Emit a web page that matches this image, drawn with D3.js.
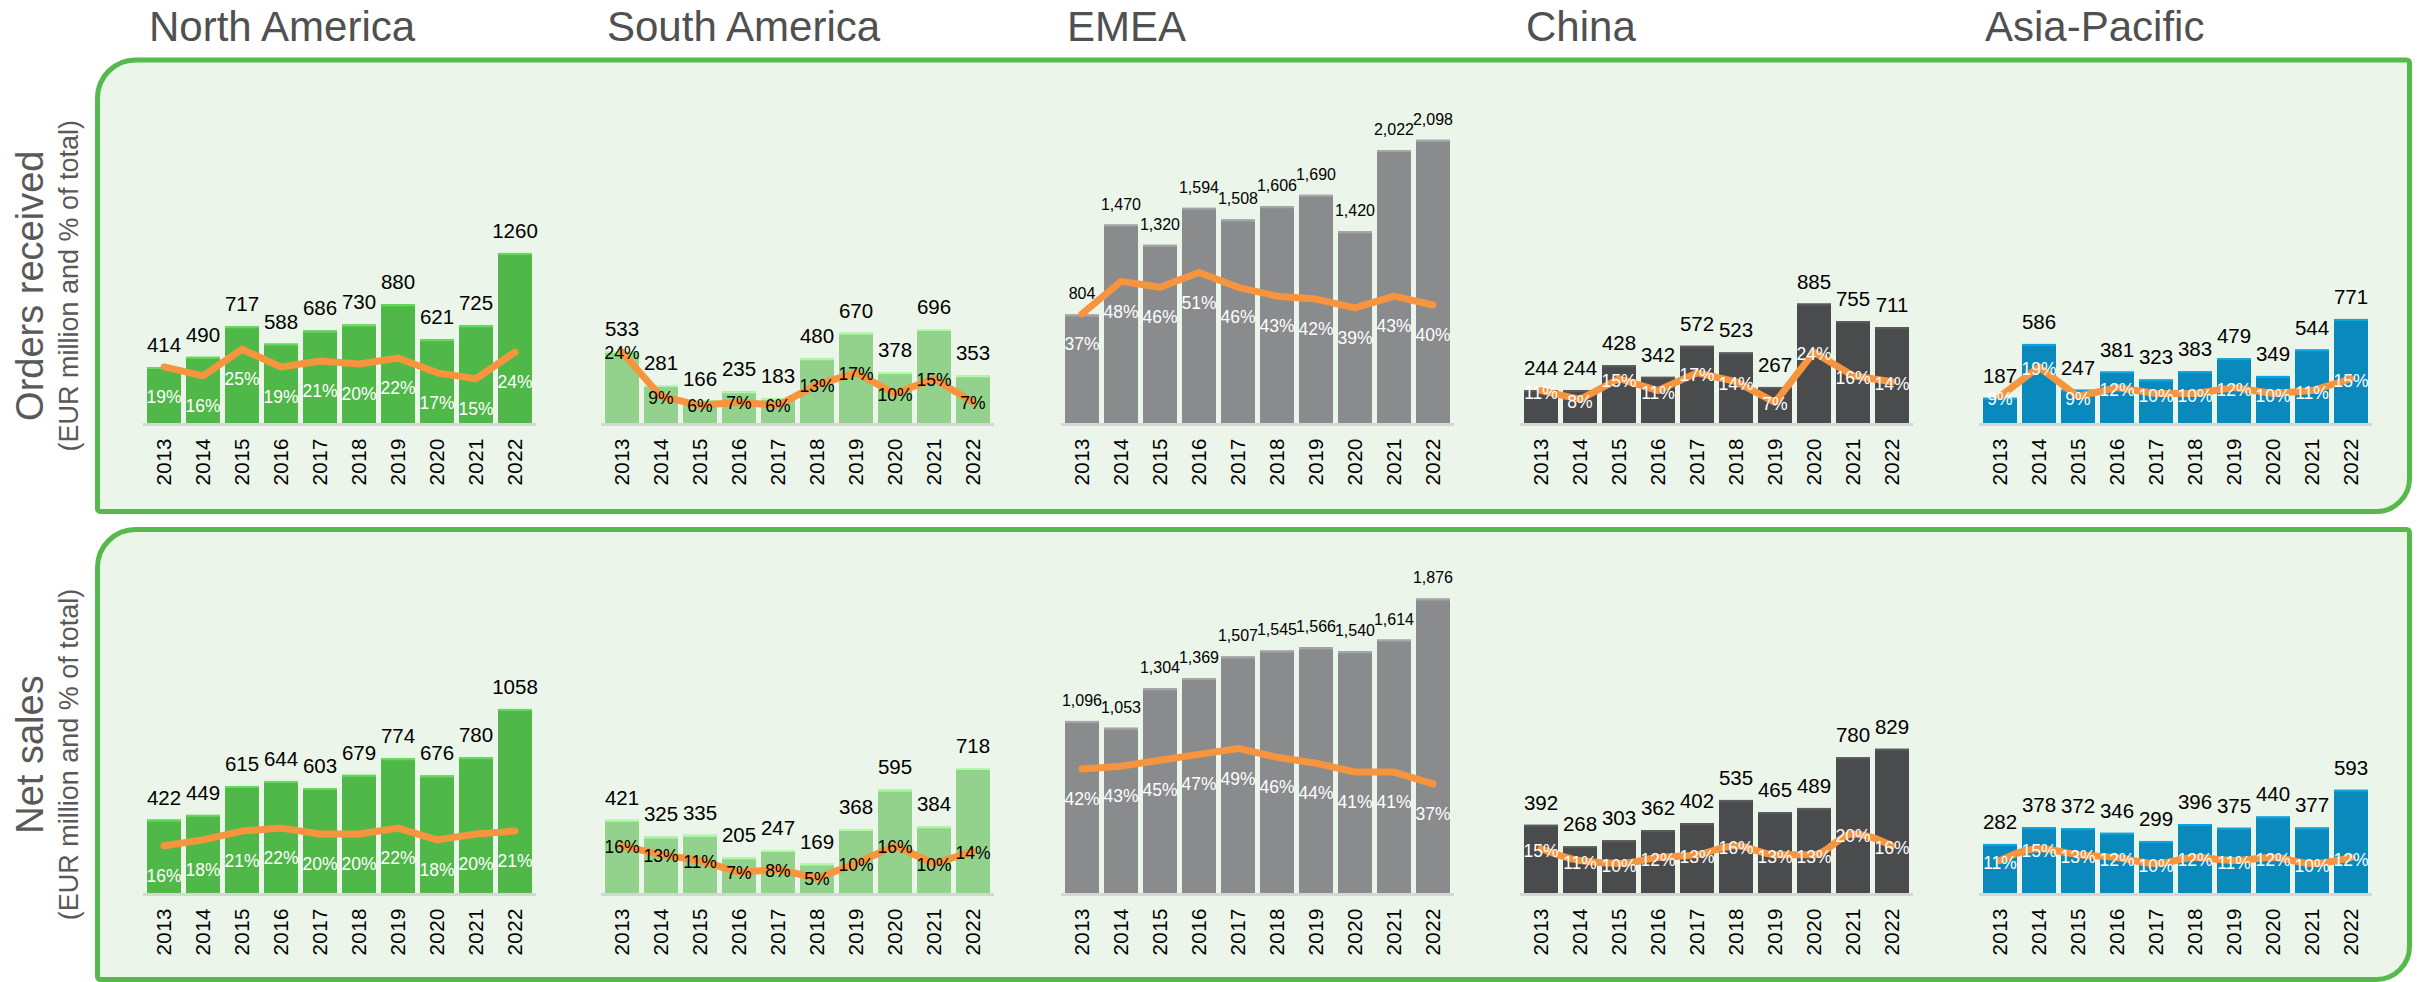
<!DOCTYPE html>
<html><head><meta charset="utf-8">
<script src="https://cdn.jsdelivr.net/npm/d3@7"></script>
<style>
html,body{margin:0;padding:0;background:#fff;}
svg{display:block;font-family:"Liberation Sans",Arial,Helvetica,sans-serif;}
</style>
</head><body>
<svg id="chart" width="2421" height="982"></svg>
<script>
// ---------------- DATA ----------------
const years = ["2013","2014","2015","2016","2017","2018","2019","2020","2021","2022"];
const regions = ["North America","South America","EMEA","China","Asia-Pacific"];
const rowLabels = ["Orders received","Net sales"];
const rowSubLabel = "(EUR million and % of total)";

// Orders received (EUR million) and share of total (%)
const ordersNA     = [414,490,717,588,686,730,880,621,725,1260];
const ordersNAPct  = [19,16,25,19,21,20,22,17,15,24];
const ordersSA     = [533,281,166,235,183,480,670,378,696,353];
const ordersSAPct  = [24,9,6,7,6,13,17,10,15,7];
const ordersEMEA   = [804,1470,1320,1594,1508,1606,1690,1420,2022,2098];
const ordersEMEAPct= [37,48,46,51,46,43,42,39,43,40];
const ordersCN     = [244,244,428,342,572,523,267,885,755,711];
const ordersCNPct  = [11,8,15,11,17,14,7,24,16,14];
const ordersAP     = [187,586,247,381,323,383,479,349,544,771];
const ordersAPPct  = [9,19,9,12,10,10,12,10,11,15];

// Net sales (EUR million) and share of total (%)
const salesNA      = [422,449,615,644,603,679,774,676,780,1058];
const salesNAPct   = [16,18,21,22,20,20,22,18,20,21];
const salesSA      = [421,325,335,205,247,169,368,595,384,718];
const salesSAPct   = [16,13,11,7,8,5,10,16,10,14];
const salesEMEA    = [1096,1053,1304,1369,1507,1545,1566,1540,1614,1876];
const salesEMEAPct = [42,43,45,47,49,46,44,41,41,37];
const salesCN      = [392,268,303,362,402,535,465,489,780,829];
const salesCNPct   = [15,11,10,12,13,16,13,13,20,16];
const salesAP      = [282,378,372,346,299,396,375,440,377,593];
const salesAPPct   = [11,15,13,12,10,12,11,12,10,12];

// ---------------- LAYOUT / STYLE ----------------
const svg = d3.select("#chart");

const regionX = [147, 605, 1065, 1524, 1983];
const barColors = ["#50b848","#93d28c","#8a8b8d","#4a4b4d","#0a89bc"];
const pctLabelColor = ["#ffffff","#000000","#ffffff","#ffffff","#ffffff"];
const pctLabelOffset = [30, 1, 30, 2, 2];
const valueFont = [20.5,20.5,16,20.5,20.5];
const lineColor = "#f7953e";
const borderColor = "#55b94b";
const panelFill = "#ebf5ea";

const rowsData = [
  { values:[ordersNA,ordersSA,ordersEMEA,ordersCN,ordersAP],
    pcts:[ordersNAPct,ordersSAPct,ordersEMEAPct,ordersCNPct,ordersAPPct] },
  { values:[salesNA,salesSA,salesEMEA,salesCN,salesAP],
    pcts:[salesNAPct,salesSAPct,salesEMEAPct,salesCNPct,salesAPPct] }
];
const rowGeom = [
  { top:60, bottom:511.5, base:423, valMax:[2700,2700,2700,2700,2700], valTop:[58.5,58.5,58.5,58.5,58.5], curve:[0,0,0,0,0] },
  { top:529.5, bottom:979.5, base:893, valMax:[2000,2000,2000,2000,2000], valTop:[545,545,579,545,545], curve:[0,0,0,1,1] }
];
const panelLeft = 97.5, panelRight = 2409.5;

// panel shape: rounded top-left and bottom-right corners
function panelPath(x0,y0,x1,y1,rTL,rBR,rS){
  const p = d3.path();
  p.moveTo(x0+rTL,y0);
  p.lineTo(x1-rS,y0);
  p.arcTo(x1,y0,x1,y0+rS,rS);
  p.lineTo(x1,y1-rBR);
  p.arcTo(x1,y1,x1-rBR,y1,rBR);
  p.lineTo(x0+rS,y1);
  p.arcTo(x0,y1,x0,y1-rS,rS);
  p.lineTo(x0,y0+rTL);
  p.arcTo(x0,y0,x0+rTL,y0,rTL);
  p.closePath();
  return p.toString();
}

// Titles
svg.selectAll("text.title").data(regions).enter().append("text")
  .attr("class","title")
  .attr("x",(d,i)=>regionX[i]+2)
  .attr("y",41)
  .attr("font-size",42)
  .attr("fill","#505050")
  .text(d=>d);

rowGeom.forEach((g,ri)=>{
  svg.append("path")
    .attr("d",panelPath(panelLeft,g.top,panelRight,g.bottom,38,33,3))
    .attr("fill",panelFill)
    .attr("stroke",borderColor)
    .attr("stroke-width",5);

  const cy = (g.top+g.bottom)/2;
  svg.append("text")
    .attr("transform",`translate(43,${cy}) rotate(-90)`)
    .attr("text-anchor","middle")
    .attr("font-size",38)
    .attr("fill","#595959")
    .text(rowLabels[ri]);
  svg.append("text")
    .attr("transform",`translate(78,${cy}) rotate(-90)`)
    .attr("text-anchor","middle")
    .attr("font-size",27)
    .attr("fill","#595959")
    .text(rowSubLabel);

  regions.forEach((reg,k)=>{
    const vals = rowsData[ri].values[k];
    const pcts = rowsData[ri].pcts[k];
    const x = d3.scaleBand().domain(years).range([regionX[k], regionX[k]+385]).paddingInner(5/39).paddingOuter(0);
    const y = d3.scaleLinear().domain([0,g.valMax[k]]).range([g.base,g.valTop[k]]);
    const yp = d3.scaleLinear().domain([0,100]).range([g.base,g.base-295]);
    const gg = svg.append("g");
    const data = years.map((yr,i)=>({yr, v:vals[i], p:pcts[i]}));
    const col = barColors[k];
    const light = d3.color(col).brighter(0.5).formatHex();

    gg.selectAll("rect.bar").data(data).enter().append("rect")
      .attr("class","bar")
      .attr("x",d=>x(d.yr))
      .attr("width",x.bandwidth())
      .attr("y",d=>y(d.v))
      .attr("height",d=>g.base-y(d.v))
      .attr("fill",col);
    gg.selectAll("line.cap").data(data).enter().append("line")
      .attr("x1",d=>x(d.yr)).attr("x2",d=>x(d.yr)+x.bandwidth())
      .attr("y1",d=>y(d.v)+1).attr("y2",d=>y(d.v)+1)
      .attr("stroke",light).attr("stroke-width",2);

    const axis = d3.axisBottom(x).tickSize(0).tickFormat("");
    const ax = gg.append("g").attr("transform",`translate(0,${g.base+1.5})`).call(axis);
    ax.select(".domain").attr("stroke","#d6d6d6").attr("stroke-width",3)
      .attr("d",`M${regionX[k]-4},0H${regionX[k]+389}`);

    gg.selectAll("text.yr").data(data).enter().append("text")
      .attr("transform",d=>`translate(${x(d.yr)+x.bandwidth()/2},${g.base+15}) rotate(-90)`)
      .attr("text-anchor","end")
      .attr("dy","0.35em")
      .attr("font-size",20.5)
      .attr("letter-spacing","0.5")
      .attr("fill","#000")
      .text(d=>d.yr);

    const line = d3.line()
      .x(d=>x(d.yr)+x.bandwidth()/2)
      .y(d=>yp(d.p))
      .curve(g.curve[k] ? d3.curveMonotoneX : d3.curveLinear);
    gg.append("path").datum(data)
      .attr("d",line)
      .attr("fill","none")
      .attr("stroke",lineColor)
      .attr("stroke-width",7)
      .attr("stroke-linejoin","round")
      .attr("stroke-linecap","round");

    const fmt = k===2 ? d3.format(",") : d3.format("d");
    gg.selectAll("text.val").data(data).enter().append("text")
      .attr("x",d=>x(d.yr)+x.bandwidth()/2)
      .attr("y",d=>y(d.v)-15)
      .attr("text-anchor","middle")
      .attr("font-size",valueFont[k])
      .attr("fill","#000")
      .text(d=>fmt(d.v));

    gg.selectAll("text.pct").data(data).enter().append("text")
      .attr("x",d=>x(d.yr)+x.bandwidth()/2)
      .attr("y",d=>yp(d.p)+pctLabelOffset[k])
      .attr("dy","0.35em")
      .attr("text-anchor","middle")
      .attr("font-size",17.5)
      .attr("fill",pctLabelColor[k])
      .text(d=>d.p+"%");
  });
});
</script>
</body></html>
